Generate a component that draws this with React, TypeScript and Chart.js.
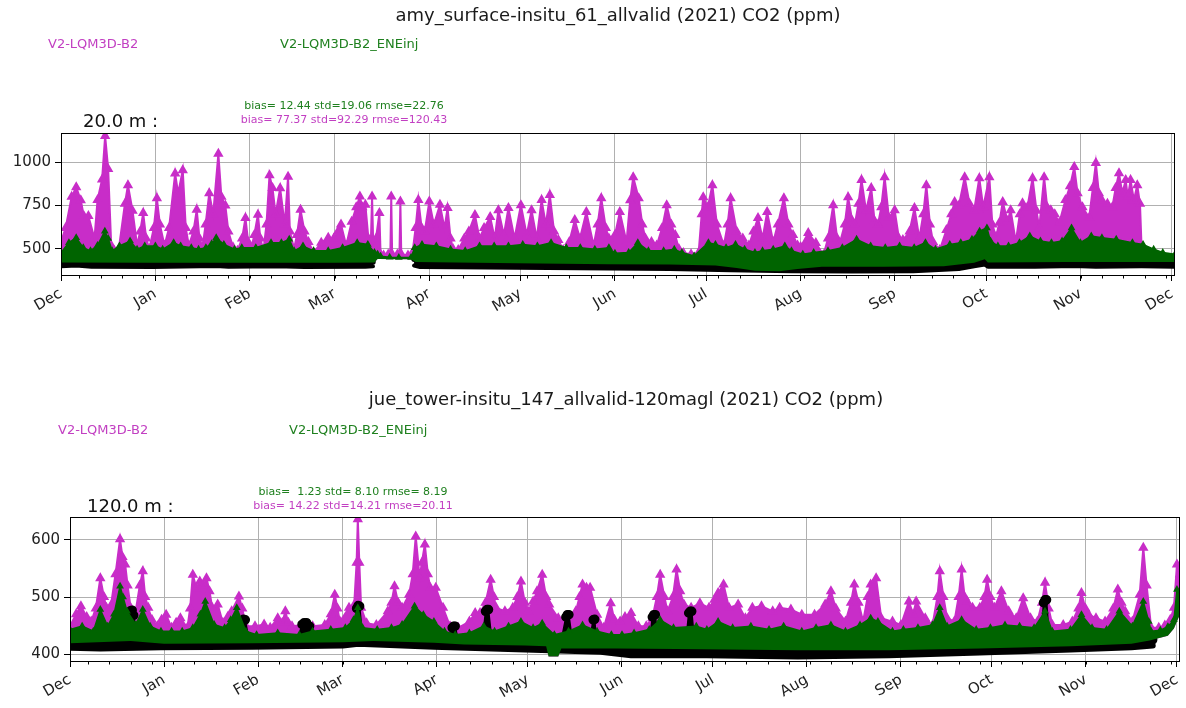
import React, { useEffect, useRef } from "react";
import { Chart, registerables } from "chart.js";
Chart.register(...registerables);

// ---------- axis categories ----------
// day index counted from 1 Dec 2020
const MONTH_TICKS = [0, 31, 62, 90, 121, 151, 182, 212, 243, 274, 304, 335, 365];
const MONTH_LABELS = ["Dec", "Jan", "Feb", "Mar", "Apr", "May", "Jun", "Jul", "Aug", "Sep", "Oct", "Nov", "Dec"];
const FIRST_MONDAY = 6;
const X_MAX = 366;
const Y_TICKS_AMY = [500, 750, 1000];
const Y_TICKS_JUE = [400, 500, 600];

// ---------- texts ----------
const TITLE_AMY = "amy_surface-insitu_61_allvalid (2021) CO2 (ppm)";
const TITLE_JUE = "jue_tower-insitu_147_allvalid-120magl (2021) CO2 (ppm)";
const LABEL_B2 = "V2-LQM3D-B2";
const LABEL_ENE = "V2-LQM3D-B2_ENEinj";
const HEIGHT_AMY = "20.0 m :";
const HEIGHT_JUE = "120.0 m :";
const STATS_AMY_ENE = "bias= 12.44 std=19.06 rmse=22.76";
const STATS_AMY_B2 = "bias= 77.37 std=92.29 rmse=120.43";
const STATS_JUE_ENE = "bias=  1.23 std= 8.10 rmse= 8.19";
const STATS_JUE_B2 = "bias= 14.22 std=14.21 rmse=20.11";

// ---------- amy (20 m) series: [day, ppm] ----------
const AMY_B2_TOP: [number, number][] = [
  [0,540],[1.5,620],[3.5,800],[5,855],[6.5,780],[7.5,690],[9,690],[11,560],[12,782],[13.5,900],[14.5,1150],[15.5,960],[16.5,520],[17.5,490],
  [19,500],[21,760],[22,867],[23.5,720],[25,520],[26,600],[27,706],[28,560],[29,500],[30.5,620],[31.5,792],[32.5,640],[34,520],[35.5,620],
  [37.5,934],[38.5,820],[40,953],[41,620],[42,520],[43.5,600],[44.6,725],[45.5,560],[46.5,510],[47.5,640],[48.7,820],[50,700],[51.7,1047],
  [52.7,800],[54,750],[55,600],[56.5,510],[58,490],[59.5,560],[60.6,678],[61.5,540],[62.5,500],[63.5,580],[64.7,697],[65.5,560],[66.5,490],
  [67.5,640],[68.5,924],[69.5,850],[70.5,700],[72,849],[73.5,640],[74.6,915],[75.2,600],[76.6,500],[77.5,580],[78.7,725],[80,600],[81.3,540],
  [83,480],[85.5,536],[87.8,564],[89.6,560],[91,600],[92,640],[93.7,520],[95.5,656],[97,740],[98.2,801],[99,740],[100,754],[101,560],
  [101.8,540],[102.2,801],[102.6,520],[103.5,560],[104.6,706],[105,470],[106,462],[107.5,468],[108.2,470],[108.5,801],[108.8,470],[110.5,468],
  [111.2,470],[111.5,773],[111.8,470],[114,462],[115.5,480],[116.5,620],[117.4,782],[118.5,620],[119.5,600],[121,773],[122.5,640],[124.5,754],
  [126,620],[127,735],[128,560],[128.8,500],[130.5,494],[132.5,560],[134,600],[136,695],[137.5,560],[139,620],[141,683],[142.5,560],[143.7,723],
  [145.5,580],[147,735],[149,560],[151.1,752],[153,580],[154.6,723],[156.3,560],[157.9,781],[159.3,640],[160.6,810],[162,600],[163.4,551],
  [165,494],[167,540],[168.8,666],[170.5,560],[172.6,712],[175,520],[176.3,640],[177.5,792],[179,620],[180,560],[182,580],[183.6,712],
  [185.8,540],[187,780],[188,913],[189.8,792],[191,640],[192,560],[194,540],[195.7,520],[197.5,620],[199,752],[200.5,640],[201.8,580],
  [203,500],[204.5,476],[207,470],[209.5,480],[210.5,700],[211,798],[212.5,740],[214,867],[215.5,640],[217.8,520],[219,640],[220,792],
  [222,600],[224,560],[226,520],[227.5,600],[229,678],[230.5,560],[232,712],[234,540],[235.5,640],[237.5,792],[239,640],[240.5,580],
  [242,520],[243,511],[245.5,591],[248,534],[250.5,465],[252,560],[253.7,752],[255,560],[255.9,534],[257.5,640],[258.6,798],[260,660],
  [260.8,640],[262,760],[263,896],[264.5,720],[266.2,850],[267.3,660],[268.4,640],[269.5,740],[270.6,913],[272,680],[273.9,723],[275.3,560],
  [276.6,551],[278.8,600],[280.4,735],[282,560],[283.3,700],[284.3,867],[285.5,640],[286.5,540],[288.7,494],[290.9,609],[292.5,700],
  [293.6,770],[295,750],[296.9,913],[298.5,760],[300,720],[301.7,907],[303,740],[305,913],[306,640],[307.2,570],[308.3,650],[309.4,770],
  [311,660],[312,723],[313.7,540],[315,700],[315.9,763],[317.5,740],[319.2,907],[320.5,720],[321.4,620],[323,913],[324,740],[325.2,723],
  [326.5,700],[328,650],[330,781],[331.5,860],[332.9,971],[334,820],[335.6,740],[337.8,680],[339,850],[340,994],[341,820],[342,780],
  [343.8,760],[345.4,740],[346.5,850],[347.6,936],[348.7,820],[349.8,896],[350.5,800],[351.4,896],[352.5,780],[353.6,867],[354.5,760],[355,520],
];
const AMY_ENE_TOP: [number, number][] = [
  [0,479],[2.6,536],[5,564],[7.3,507],[9.7,489],[12,520],[14.4,602],[15.5,560],[16.8,489],[19.2,517],[22.7,545],[25,498],[27.5,517],[31,517],
  [33.4,498],[37,536],[39.3,517],[42.8,507],[45.2,498],[47.6,507],[49.5,530],[51,564],[53.5,526],[57,498],[59.4,507],[64,507],[69,536],
  [72.4,536],[75,555],[76.6,489],[79.5,517],[83,489],[87.8,489],[92.5,507],[97.3,536],[100.8,526],[103,479],[104,470],[105,458],[108,452],
  [111,450],[115,450],[116.2,507],[118.6,526],[123.3,517],[128,498],[132.8,489],[137.5,517],[142.3,517],[147,517],[151.7,526],[156.5,517],
  [161,536],[166,507],[170.6,507],[175.4,498],[180,507],[182,475],[186.5,480],[189.5,536],[193,489],[198,489],[201.5,498],[204,479],[208,460],
  [212.7,536],[215,526],[218.5,507],[221.6,526],[224.6,498],[228,479],[230.5,489],[234,498],[237.8,517],[240,489],[243.7,470],[247.3,479],
  [252,489],[256.7,507],[261.4,555],[266,517],[270.8,507],[275.5,517],[280.3,507],[284,536],[287.3,498],[292,526],[295.6,536],[299.3,555],
  [301.8,602],[304.2,621],[305.4,545],[307.8,517],[311.3,517],[314.9,536],[318.3,574],[321.8,545],[325.4,536],[328.9,545],[332,621],
  [334.9,536],[338.5,574],[342,564],[346.7,555],[352,536],[355.5,526],[359,498],[362,479],[366,470],
];
const AMY_ENE_LOW: [number, number][] = [
  [0,422],[30,420],[60,420],[90,420],[103,422],[104,442],[115,440],[116.5,425],[150,418],[180,412],[200,410],[215,405],[222,390],[228,375],
  [236,372],[242,385],[250,398],[270,398],[290,400],[300,420],[303.5,440],[304.5,422],[330,425],[366,425],
];
const AMY_OBS_TOP: [number, number | null][] = [
  [0,425],[5,432],[10,424],[30,422],[51,430],[55,422],[71,426],[80,422],[100,422],[102.5,425],[109,null],[116,440],[118,424],[150,420],
  [180,416],[200,414],[220,410],[240,405],[260,402],[280,405],[295,410],[300,425],[303.5,441],[304.5,425],[320,428],[333,430],[340,428],
  [355,430],[366,428],
];
const AMY_OBS_LOW: [number, number | null][] = [
  [0,400],[5,405],[10,398],[30,396],[51,402],[55,397],[71,400],[80,396],[100,397],[102.5,400],[109,null],[116,405],[118,396],[150,392],
  [180,388],[200,385],[220,378],[240,372],[260,370],[280,372],[295,385],[300,400],[303.5,410],[304.5,398],[320,398],[333,402],[340,398],
  [355,400],[366,398],
];

// ---------- jue (120 m) series: [day, ppm] ----------
const JUE_B2_TOP: [number, number][] = [
  [0,449],[2,470],[3.6,484],[5.5,465],[7,457],[8.5,480],[10,533],[11.2,500],[12,481],[13.5,485],[15,540],[16.5,601],[17.3,570],[18.2,557],
  [19,520],[20,481],[21.5,470],[23,520],[24,545],[24.8,500],[25.8,481],[27,460],[28.8,449],[30.2,460],[31.7,469],[33.5,446],[35,455],
  [36.4,463],[38.7,446],[39.6,480],[40.5,539],[41.7,515],[42.8,527],[44,520],[45,533],[46,510],[46.9,481],[48.7,487],[50.4,455],[52,465],
  [53.3,475],[55.7,501],[56.8,480],[58,449],[61,449],[64,452],[66,446],[68.5,463],[70,455],[71,475],[72,455],[73.2,449],[76.7,451],[80,449],
  [84,451],[86,470],[87.3,504],[88.2,480],[89,457],[92,481],[93.7,486],[94.5,560],[94.9,636],[95.4,560],[96,481],[97.8,454],[101,451],
  [104.8,475],[106,490],[107,519],[108.2,490],[109.5,481],[111.8,504],[113,540],[114,606],[115.3,533],[116,560],[117,592],[118,540],
  [118.8,516],[120.6,516],[123,481],[125.3,449],[128,446],[131.7,457],[133.6,472],[135.2,472],[137,490],[138.7,530],[139.8,500],[140.5,481],
  [143.4,475],[146,481],[147.5,500],[148.7,527],[150,490],[151,475],[152.7,492],[154,510],[155.7,539],[157,500],[158,487],[161,463],
  [164,463],[166.8,475],[168,500],[169,522],[170.3,516],[171.5,516],[173.8,469],[176,446],[178.3,489],[179.5,460],[181.4,457],[183,465],
  [185,472],[187.4,449],[190,449],[192,463],[193.5,500],[194.6,539],[196,500],[197,475],[198.8,500],[200,548],[201.2,510],[202.4,487],
  [204.8,481],[207.7,489],[210.7,481],[212.5,495],[213.7,507],[215.5,522],[217.3,481],[220.3,487],[222.7,463],[225,481],[228,484],
  [231.7,475],[234,481],[237.7,478],[241.3,469],[245.5,469],[249,487],[250.9,510],[252.5,480],[255.7,457],[257.5,490],[258.6,522],[260,490],
  [261.5,457],[263,500],[264,522],[265.8,533],[267.5,463],[271.2,457],[274,451],[276.6,492],[278,470],[279,492],[282,463],[284.4,451],
  [286,500],[286.8,545],[288,500],[289.2,463],[291.6,457],[293,500],[294,548],[295,500],[295.8,492],[297.6,481],[300,481],[301.5,500],
  [302.4,530],[303.5,500],[304.8,481],[307.1,510],[309.5,475],[312,463],[314.3,498],[316.7,463],[319,457],[320.5,490],[321.5,525],
  [322.7,480],[323.9,451],[327.5,451],[330.5,457],[332.5,480],[333.5,507],[334.8,480],[335.9,469],[338.3,463],[341.3,457],[344,480],
  [345.5,513],[346.7,490],[347.9,475],[350.3,457],[352.7,504],[353.9,586],[355,520],[356.5,446],[359,446],[361,450],[362.8,460],[364,481],
  [365,557],[366,540],
];
const JUE_ENE_TOP: [number, number][] = [
  [0,443],[4,449],[7.7,440],[10,478],[12.4,449],[14.5,470],[16.5,519],[17.5,500],[18.8,475],[21.7,452],[24,478],[26.4,449],[30,440],
  [33.5,440],[37,440],[40.5,446],[43,470],[44.6,492],[47.5,452],[51,446],[53,460],[55,481],[58,440],[61.5,434],[68.5,437],[75.6,434],
  [80,440],[86,443],[90.8,446],[93.5,460],[94.9,481],[96.5,446],[101.3,443],[106,446],[109.5,452],[113.6,484],[116.5,469],[120,457],
  [123.5,440],[127,434],[131.7,437],[136.4,449],[140,440],[144.6,449],[148.7,457],[152.7,446],[155.7,454],[159.7,434],[164.4,440],[169,451],
  [173.8,440],[178.5,434],[182,434],[186,437],[191,443],[194.6,460],[199,446],[206.5,449],[210,443],[213.7,457],[218.5,446],[224.5,449],
  [230.5,443],[235.3,449],[241.3,440],[246,446],[250.9,451],[255.7,440],[260.5,451],[264,463],[266.4,457],[271.2,440],[274.8,443],
  [279.6,446],[284.4,451],[286.8,481],[289.2,449],[294,460],[298.8,443],[303.5,446],[308.3,451],[313.1,449],[317.9,446],[321.5,475],
  [323.9,440],[329.9,443],[333.5,469],[337,446],[341.8,443],[346,475],[350.3,449],[353.9,492],[355.7,457],[356.5,440],[359.5,442],
  [362,448],[364,460],[365,513],[366,505],
];
const JUE_ENE_LOW: [number, number][] = [
  [0,419],[20,423],[31,418],[60,419],[90,421],[100,423],[120,420],[130,417],[150,415],[157,414],[157.8,396],[161,396],[162,410],[180,410],
  [200,409],[240,407],[270,407],[300,410],[330,414],[350,418],[356,424],[362,432],[364,445],[366,470],
];
const JUE_OBS_TOP: [number, number][] = [
  [0,422],[18,425],[19.5,470],[20,476],[20.5,477],[21,468],[21.5,440],[23,425],[55,425],[56.5,458],[57.2,461],[57.8,460],[59,425],[75,425],
  [76.5,452],[77.2,455],[78,455],[79,449],[80.5,425],[93.5,425],[94.5,480],[95,485],[95.5,484],[96.5,430],[125,425],[126,446],[126.5,449],
  [127,449],[128,425],[136,425],[137,475],[137.5,478],[138,478],[139,430],[162,425],[163.5,465],[164,469],[164.5,469],[165.5,430],[171.5,430],
  [172.5,460],[173,461],[173.5,430],[191,420],[192,465],[192.5,469],[193,469],[194,420],[203,420],[204,472],[204.5,475],[205,475],[206,420],
  [320,420],[321,490],[321.5,495],[322,495],[323,420],[357,425],
];
const JUE_OBS_LOW: [number, number][] = [
  [0,411],[10,410],[30,412],[60,413],[90,415],[95,418],[120,413],[150,408],[175,404],[185,398],[210,398],[240,396],[270,398],[300,403],
  [330,408],[350,412],[357,415],
];

// ---------- styling ----------
const FONT = "'DejaVu Sans', 'Liberation Sans', sans-serif";
const MAGENTA = "#c82dc8";
const GREEN = "#006400";
const OBS = "#000000";
const MAGENTA_TEXT = "#c23fc2";
const GREEN_TEXT = "#1f801f";
const W = 1186;
const H = 354;

const pts = (pairs: [number, number | null][]) => pairs.map(([x, y]) => ({ x, y }));

type TextItem = { text: string; x: number; y: number; size: number; color: string; align: CanvasTextAlign };
type Spec = {
  id: string;
  top: number;
  padding: { left: number; top: number; right: number; bottom: number };
  yWidth: number;
  yMin: number;
  yMax: number;
  yTicks: number[];
  b2: [number, number][];
  eneTop: [number, number][];
  eneLow: [number, number][];
  obsTop: [number, number | null][];
  obsLow: [number, number | null][];
  obsRadius: number;
  obsLine: number;
  texts: TextItem[];
};

function buildConfig(spec: Spec): any {
  const overlay = {
    id: "overlay_" + spec.id,
    afterDraw(chart: any) {
      const { ctx, chartArea: a } = chart;
      const xs = chart.scales.x;
      ctx.save();
      ctx.strokeStyle = "#000";
      ctx.lineWidth = 1;
      ctx.beginPath();
      for (let d = FIRST_MONDAY; d < X_MAX; d += 7) {
        const px = Math.round(xs.getPixelForValue(d)) + 0.5;
        ctx.moveTo(px, a.bottom);
        ctx.lineTo(px, a.bottom + 3.5);
      }
      ctx.stroke();
      ctx.strokeRect(Math.round(a.left) + 0.5, Math.round(a.top) + 0.5, Math.round(a.right - a.left) - 1, Math.round(a.bottom - a.top));
      for (const t of spec.texts) {
        ctx.font = `${t.size}px ${FONT}`;
        ctx.fillStyle = t.color;
        ctx.textAlign = t.align;
        ctx.textBaseline = "middle";
        ctx.fillText(t.text, t.x, t.y);
      }
      ctx.restore();
    },
  };

  const gridOpts = { color: "#b0b0b0", lineWidth: 1, tickLength: 6, tickColor: "#000", drawTicks: true };

  return {
    type: "line",
    data: {
      datasets: [
        {
          label: LABEL_ENE,
          data: pts(spec.eneTop),
          borderColor: GREEN,
          backgroundColor: GREEN,
          pointBackgroundColor: GREEN,
          pointBorderColor: GREEN,
          pointStyle: "triangle",
          pointRadius: 3,
          borderWidth: 1.5,
          fill: 1,
          order: 1,
        },
        {
          label: "ene-low",
          data: pts(spec.eneLow),
          borderColor: "rgba(0,0,0,0)",
          borderWidth: 0,
          pointRadius: 0,
          fill: false,
          order: 1,
        },
        {
          label: "obs",
          data: pts(spec.obsTop),
          borderColor: OBS,
          backgroundColor: OBS,
          pointBackgroundColor: OBS,
          pointBorderColor: OBS,
          pointStyle: "circle",
          pointRadius: spec.obsRadius,
          borderWidth: 1.5,
          fill: 3,
          order: 2,
        },
        {
          label: "obs-low",
          data: pts(spec.obsLow),
          borderColor: OBS,
          backgroundColor: OBS,
          pointRadius: 0,
          borderWidth: spec.obsLine,
          borderCapStyle: "round",
          borderJoinStyle: "round",
          fill: false,
          order: 2,
        },
        {
          label: LABEL_B2,
          data: pts(spec.b2),
          borderColor: MAGENTA,
          backgroundColor: MAGENTA,
          pointBackgroundColor: MAGENTA,
          pointBorderColor: MAGENTA,
          pointStyle: "triangle",
          pointRadius: 4,
          borderWidth: 2,
          fill: 1,
          order: 3,
        },
      ],
    },
    options: {
      animation: false,
      responsive: false,
      devicePixelRatio: 1,
      events: [],
      spanGaps: false,
      layout: { padding: spec.padding },
      plugins: { legend: { display: false }, tooltip: { enabled: false }, title: { display: false } },
      elements: { line: { tension: 0 } },
      scales: {
        x: {
          type: "linear",
          min: 0,
          max: X_MAX,
          bounds: "data",
          afterBuildTicks: (ax: any) => {
            ax.ticks = MONTH_TICKS.map((v) => ({ value: v }));
          },
          afterFit: (ax: any) => {
            ax.height = 40;
            ax.paddingLeft = 0;
            ax.paddingRight = 0;
          },
          grid: gridOpts,
          border: { display: false },
          ticks: {
            autoSkip: false,
            minRotation: 30,
            maxRotation: 30,
            padding: 4,
            color: "#222",
            font: { family: FONT, size: 15 },
            callback: (_v: any, i: number) => MONTH_LABELS[i] ?? "",
          },
        },
        y: {
          type: "linear",
          min: spec.yMin,
          max: spec.yMax,
          bounds: "data",
          afterBuildTicks: (ax: any) => {
            ax.ticks = spec.yTicks.map((v) => ({ value: v }));
          },
          afterFit: (ax: any) => {
            ax.width = spec.yWidth;
            ax.paddingTop = 0;
            ax.paddingBottom = 0;
          },
          grid: gridOpts,
          border: { display: false },
          ticks: {
            padding: 4,
            color: "#222",
            font: { family: FONT, size: 15 },
            callback: (v: any) => String(v),
          },
        },
      },
    },
    plugins: [overlay],
  };
}

const SPEC_AMY: Spec = {
  id: "amy",
  top: 0,
  padding: { left: 0, top: 133, right: 11, bottom: 39 },
  yWidth: 61,
  yMin: 350,
  yMax: 1167,
  yTicks: Y_TICKS_AMY,
  b2: AMY_B2_TOP,
  eneTop: AMY_ENE_TOP,
  eneLow: AMY_ENE_LOW,
  obsTop: AMY_OBS_TOP,
  obsLow: AMY_OBS_LOW,
  obsRadius: 2,
  obsLine: 4,
  texts: [
    { text: TITLE_AMY, x: 618, y: 16, size: 18, color: "#1a1a1a", align: "center" },
    { text: LABEL_B2, x: 48, y: 45, size: 13, color: MAGENTA_TEXT, align: "left" },
    { text: LABEL_ENE, x: 280, y: 45, size: 13, color: GREEN_TEXT, align: "left" },
    { text: STATS_AMY_ENE, x: 344, y: 106, size: 11, color: GREEN_TEXT, align: "center" },
    { text: STATS_AMY_B2, x: 344, y: 120, size: 11, color: MAGENTA_TEXT, align: "center" },
    { text: HEIGHT_AMY, x: 83, y: 122, size: 18, color: "#111", align: "left" },
  ],
};

const SPEC_JUE: Spec = {
  id: "jue",
  top: 354,
  padding: { left: 0, top: 163, right: 3, bottom: 7 },
  yWidth: 70,
  yMin: 388,
  yMax: 640,
  yTicks: Y_TICKS_JUE,
  b2: JUE_B2_TOP,
  eneTop: JUE_ENE_TOP,
  eneLow: JUE_ENE_LOW,
  obsTop: JUE_OBS_TOP,
  obsLow: JUE_OBS_LOW,
  obsRadius: 4,
  obsLine: 6,
  texts: [
    { text: TITLE_JUE, x: 626, y: 46, size: 18, color: "#1a1a1a", align: "center" },
    { text: LABEL_B2, x: 58, y: 77, size: 13, color: MAGENTA_TEXT, align: "left" },
    { text: LABEL_ENE, x: 289, y: 77, size: 13, color: GREEN_TEXT, align: "left" },
    { text: STATS_JUE_ENE, x: 353, y: 138, size: 11, color: GREEN_TEXT, align: "center" },
    { text: STATS_JUE_B2, x: 353, y: 152, size: 11, color: MAGENTA_TEXT, align: "center" },
    { text: HEIGHT_JUE, x: 87, y: 153, size: 18, color: "#111", align: "left" },
  ],
};

function Panel({ spec }: { spec: Spec }) {
  const ref = useRef<HTMLCanvasElement | null>(null);
  useEffect(() => {
    if (!ref.current) return;
    const chart = new Chart(ref.current, buildConfig(spec));
    return () => chart.destroy();
  }, [spec]);
  return (
    <canvas
      ref={ref}
      width={W}
      height={H}
      style={{ position: "absolute", left: 0, top: spec.top, width: W, height: H, display: "block" }}
    />
  );
}

export default function App() {
  return (
    <div style={{ position: "absolute", left: 0, top: 0, width: W, height: 708, background: "#fff", overflow: "hidden" }}>
      <Panel spec={SPEC_AMY} />
      <Panel spec={SPEC_JUE} />
    </div>
  );
}
